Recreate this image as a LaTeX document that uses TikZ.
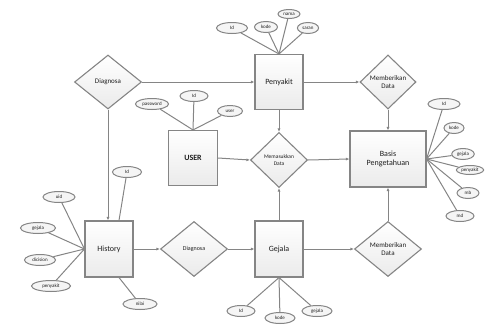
\documentclass[tikz,border=0pt]{standalone}
\usepackage{fontspec}
\setmainfont{Carlito}
\usetikzlibrary{shapes.geometric,arrows.meta}
\definecolor{ln}{HTML}{858585}
\definecolor{tx}{HTML}{1E1E1E}
\tikzset{
  ent/.style={draw=ln,line width=1.1pt,top color=white,bottom color=gray!16,text=tx,font=\fontsize{8}{9}\selectfont,inner sep=1pt,align=center},
  rel/.style={diamond,draw=ln,line width=1.1pt,top color=white,bottom color=gray!16,text=tx,inner sep=0pt,align=center,font=\fontsize{7}{8}\selectfont},
  att/.style={ellipse,draw=ln,line width=1pt,fill=gray!8,text=tx,inner xsep=2pt,inner ysep=0pt,minimum height=11pt,font=\fontsize{5}{6}\selectfont},
  con/.style={draw=ln,line width=1pt},
  arr/.style={con,-{Latex[length=3.5pt,width=3pt]}}
}
\begin{document}
\begin{tikzpicture}[x=1pt,y=-1pt]
\useasboundingbox (0,0) rectangle (485,327);
% entities
\node[ent,minimum width=48pt,minimum height=55pt] (pen) at (279,82) {Penyakit};
\node[ent,minimum width=49pt,minimum height=55pt] (user) at (193,158) {\textbf{USER}};
\node[ent,minimum width=76pt,minimum height=56pt] (basis) at (388,159) {Basis\\Pengetahuan};
\node[ent,minimum width=48pt,minimum height=56pt] (hist) at (109,249) {History};
\node[ent,minimum width=48pt,minimum height=56pt] (gej) at (279,249) {Gejala};
% relations
\node[rel,minimum width=67pt,minimum height=54pt] (diag1) at (108,82) {Diagnosa};
\node[rel,minimum width=56pt,minimum height=54pt] (mb1) at (388,82) {Memberikan\\Data};
\node[rel,minimum width=57pt,minimum height=55pt,font=\fontsize{5.5}{6.5}\selectfont] (mas) at (279,160) {Memasukkan\\Data};
\node[rel,minimum width=67pt,minimum height=55pt,font=\fontsize{6}{7}\selectfont] (diag2) at (194,249) {Diagnosa};
\node[rel,minimum width=67pt,minimum height=55pt] (mb2) at (388,249) {Memberikan\\Data};
% relation connectors
\draw[arr] (diag1.east) -- (pen.west);
\draw[arr] (diag1.south) -- (diag1.south |- hist.north);
\draw[arr] (pen.east) -- (mb1.west);
\draw[arr] (mb1.south) -- (basis.north);
\draw[arr] (pen.south) -- (mas.north);
\draw[arr] (user.east) -- (mas.west);
\draw[arr] (mas.east) -- (basis.west);
\draw[arr] (gej.north) -- (mas.south);
\draw[arr] (hist.east) -- (diag2.west);
\draw[arr] (diag2.east) -- (gej.west);
\draw[arr] (gej.east) -- (mb2.west);
\draw[arr] (mb2.north) -- (basis.south);
% Penyakit attributes
\node[att,minimum width=31pt] (pid) at (232,28) {Id};
\node[att,minimum width=23pt] (pkode) at (266,27) {kode};
\node[att,minimum width=22pt,minimum height=9pt] (pnama) at (289,14) {nama};
\node[att,minimum width=21pt] (psaran) at (308,28) {saran};
\coordinate (ptop) at (pen.north);
\foreach \a in {pid,pkode,pnama,psaran} \draw[con] (\a) -- (ptop);
% USER attributes
\node[att,minimum width=30pt] (upass) at (152,104) {password};
\node[att,minimum width=28pt] (uid) at (194,96) {Id};
\node[att,minimum width=25pt] (uuser) at (230,111) {user};
\coordinate (utop) at (user.north);
\foreach \a in {upass,uid,uuser} \draw[con] (\a) -- (utop);
% Basis attributes
\node[att,minimum width=32pt] (bid) at (444,104) {Id};
\node[att,minimum width=20pt] (bkode) at (454,128) {kode};
\node[att,minimum width=21pt] (bgej) at (463,154) {gejala};
\node[att,minimum width=26pt,minimum height=9pt,inner xsep=1pt] (bpen) at (470,170) {penyakit};
\node[att,minimum width=22pt] (bmb) at (468,193) {mb};
\node[att,minimum width=28pt] (bmd) at (460,216) {md};
\coordinate (bright) at (basis.east);
\foreach \a in {bid,bkode,bgej,bpen,bmb,bmd} \draw[con] (\a) -- (bright);
% History attributes
\node[att,minimum width=29pt] (hid) at (127,172) {Id};
\node[att,minimum width=32pt] (huid) at (59,197) {uid};
\node[att,minimum width=35pt] (hgej) at (38,228) {gejala};
\node[att,minimum width=31pt] (hdic) at (40,260) {dicision};
\node[att,minimum width=39pt] (hpen) at (51,286) {penyakit};
\node[att,minimum width=34pt] (hnil) at (140,304) {nilai};
\coordinate (hleft) at (hist.west);
\foreach \a in {huid,hgej,hdic,hpen} \draw[con] (\a) -- (hleft);
\draw[con] (hid) -- ([xshift=10pt]hist.north);
\draw[con] (hnil) -- ([xshift=10pt]hist.south);
% Gejala attributes
\node[att,minimum width=28pt] (gid) at (241,311) {Id};
\node[att,minimum width=30pt] (gkode) at (280,318) {kode};
\node[att,minimum width=30pt] (ggej) at (317,311) {gejala};
\coordinate (gbot) at (gej.south);
\foreach \a in {gid,gkode,ggej} \draw[con] (\a) -- (gbot);
\end{tikzpicture}
\end{document}
